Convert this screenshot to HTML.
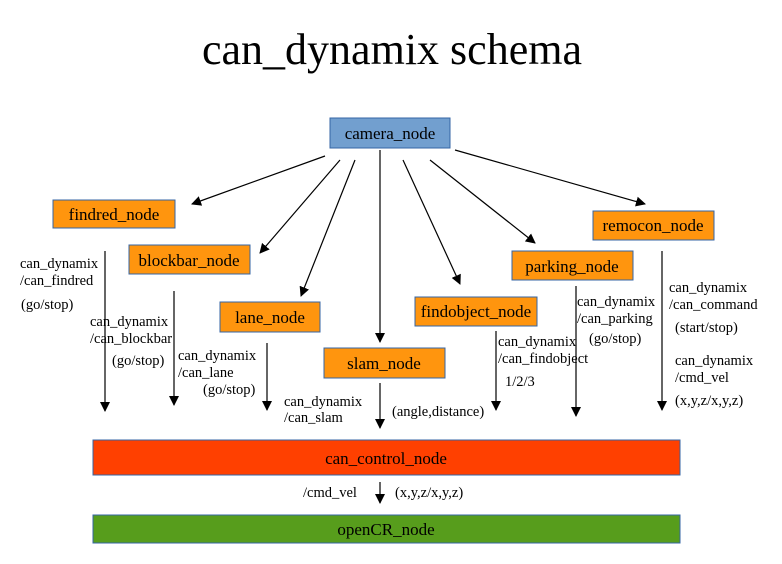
<!DOCTYPE html>
<html><head><meta charset="utf-8"><style>
body{margin:0;background:#fff}
svg text{font-family:"Liberation Serif",serif;fill:#000}
</style></head><body>
<svg width="782" height="559" viewBox="0 0 782 559" xmlns="http://www.w3.org/2000/svg">
<defs><marker id="a" markerWidth="10" markerHeight="12" refX="9" refY="5" orient="auto" markerUnits="userSpaceOnUse"><path d="M0,0 L10,5 L0,10 z" fill="#000"/></marker></defs>
<text x="392" y="64" font-size="44" text-anchor="middle">can_dynamix schema</text>
<g stroke="#3465a4" stroke-width="1">
<rect x="330" y="118" width="120" height="30" fill="#729fcf"/>
<rect x="53" y="200" width="122" height="28" fill="#ff950e"/>
<rect x="129" y="245" width="121" height="29" fill="#ff950e"/>
<rect x="220" y="302" width="100" height="30" fill="#ff950e"/>
<rect x="324" y="348" width="121" height="30" fill="#ff950e"/>
<rect x="415" y="297" width="122" height="29" fill="#ff950e"/>
<rect x="512" y="251" width="121" height="29" fill="#ff950e"/>
<rect x="593" y="211" width="121" height="29" fill="#ff950e"/>
<rect x="93" y="440" width="587" height="35" fill="#ff4000"/>
<rect x="93" y="515" width="587" height="28" fill="#579d1c"/>
</g>
<g font-size="17" text-anchor="middle">
<text x="390" y="139">camera_node</text>
<text x="114" y="220">findred_node</text>
<text x="189" y="266">blockbar_node</text>
<text x="270" y="323">lane_node</text>
<text x="384" y="369">slam_node</text>
<text x="476" y="317">findobject_node</text>
<text x="572" y="272">parking_node</text>
<text x="653" y="231">remocon_node</text>
<text x="386" y="464">can_control_node</text>
<text x="386" y="535">openCR_node</text>
</g>
<g stroke="#000" stroke-width="1.2" marker-end="url(#a)">
<line x1="325" y1="156" x2="192" y2="204"/>
<line x1="340" y1="160" x2="260" y2="253"/>
<line x1="355" y1="160" x2="301" y2="296"/>
<line x1="380" y1="150" x2="380" y2="342"/>
<line x1="403" y1="160" x2="460" y2="284"/>
<line x1="430" y1="160" x2="535" y2="243"/>
<line x1="455" y1="150" x2="645" y2="204"/>
<line x1="105" y1="251" x2="105" y2="411"/>
<line x1="174" y1="291" x2="174" y2="405"/>
<line x1="267" y1="343" x2="267" y2="410"/>
<line x1="380" y1="383" x2="380" y2="428"/>
<line x1="496" y1="331" x2="496" y2="410"/>
<line x1="576" y1="286" x2="576" y2="416"/>
<line x1="662" y1="251" x2="662" y2="410"/>
<line x1="380" y1="482" x2="380" y2="503"/>
</g>
<g font-size="14.5">
<text x="20" y="268">can_dynamix</text><text x="20" y="285">/can_findred</text><text x="21" y="309">(go/stop)</text>
<text x="90" y="326">can_dynamix</text><text x="90" y="343">/can_blockbar</text><text x="112" y="365">(go/stop)</text>
<text x="178" y="360">can_dynamix</text><text x="178" y="377">/can_lane</text><text x="203" y="394">(go/stop)</text>
<text x="284" y="406">can_dynamix</text><text x="284" y="422">/can_slam</text>
<text x="392" y="416">(angle,distance)</text>
<text x="498" y="346">can_dynamix</text><text x="498" y="363">/can_findobject</text><text x="505" y="386">1/2/3</text>
<text x="577" y="306">can_dynamix</text><text x="577" y="323">/can_parking</text><text x="589" y="343">(go/stop)</text>
<text x="669" y="292">can_dynamix</text><text x="669" y="309">/can_command</text><text x="675" y="332">(start/stop)</text>
<text x="675" y="365">can_dynamix</text><text x="675" y="382">/cmd_vel</text><text x="675" y="405">(x,y,z/x,y,z)</text>
<text x="303" y="497">/cmd_vel</text><text x="395" y="497">(x,y,z/x,y,z)</text>
</g>
</svg>
</body></html>
